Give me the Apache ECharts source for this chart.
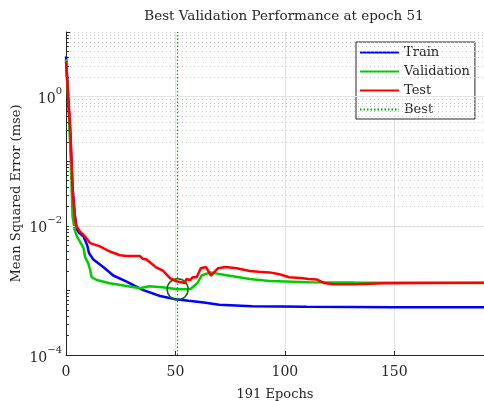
<!DOCTYPE html>
<html><head><meta charset="utf-8">
<script src="https://cdn.jsdelivr.net/npm/echarts@6/dist/echarts.min.js"></script>
<style>html,body{margin:0;padding:0;background:#fff}#c{width:484px;height:401px}</style>
</head><body><div id="c"></div>
<script>
// ---- data ----
const trainEpochs = [0,1,2,3,4,5,6,8,9.7,10.5,12.5,17,21.6,27.7,35,43,50,56,63,70,85,110,150,191];
const trainMse = [4.2,1.0,0.25,0.04,0.015,0.0088,0.0078,0.0068,0.005,0.0038,0.003,0.0023,0.0017,0.00137,0.00102,0.00082,0.00073,0.00069,0.00065,0.0006,0.00057,0.00056,0.00055,0.00055];

const valEpochs = [0,1,2,3,4,5,6.4,8,8.7,9.2,10.2,11,11.7,14,20,27.7,33.8,38,44,51,55,57,60,62,66,72,84,93,111,132,191];
const valMse = [3.8,0.9,0.15,0.014,0.0085,0.0068,0.0057,0.0045,0.0033,0.0035,0.0026,0.0021,0.0016,0.00145,0.00129,0.00117,0.00108,0.00116,0.00112,0.00104,0.00104,0.00106,0.00129,0.0017,0.0019,0.00175,0.0015,0.0014,0.00134,0.00132,0.0013];

const testEpochs = [0,1,2,3,4,4.6,6.4,7.5,8.7,11,15.5,20,24.7,27.7,33.8,35,35.6,36.8,41,44.4,47.5,50.5,52,54.3,55,56.6,58,59.7,61.6,64,66.2,69.4,73,78,84,88,93,97,102,107,111,114.5,118,122,132,146,191];
const testMse = [3.5,1.0,0.3,0.036,0.014,0.01,0.0081,0.0075,0.0068,0.0054,0.0048,0.004,0.0035,0.0034,0.0034,0.0031,0.0033,0.003,0.0023,0.002,0.00155,0.00138,0.00135,0.0013,0.0015,0.00145,0.0016,0.0016,0.0022,0.0023,0.0017,0.0022,0.0023,0.0022,0.002,0.00195,0.0019,0.0018,0.0016,0.00155,0.0015,0.00148,0.0013,0.00125,0.00124,0.00129,0.00131];

const bestEpoch = 51;
const bestMse = 0.00104;
const totalEpochs = 191;
const xTickLabels = [0,50,100,150];
const yLabelExponents = [-4,-2,0];

// ---- helpers ----
const FONT = 'DejaVu Serif';
const TXT = '#262626';
const zip = (xs, ys) => xs.map((x,i)=>[x, ys[i]]);

const majorY = yLabelExponents.map(e => Math.pow(10,e));
const minorY = [];
for (let e = -4; e <= 1; e++) {
  for (let d = 1; d <= 9; d++) {
    const v = d * Math.pow(10, e);
    if (v > 10.0001) continue;
    if (d === 1 && yLabelExponents.includes(e)) continue;
    minorY.push(v);
  }
}
const tickY = [];
for (let e = -4; e <= 1; e++) for (let d = 1; d <= 9; d++) { const v = d*Math.pow(10,e); if (v <= 10.0001) tickY.push(v); }

const chart = echarts.init(document.getElementById('c'), null, {renderer:'canvas'});
chart.setOption({
  animation: false,
  backgroundColor: '#fff',
  title: {
    text: 'Best Validation Performance at epoch 51',
    left: 279, top: 4, textAlign: 'center',
    textStyle: {fontFamily: FONT, fontSize: 13.5, fontWeight: 'normal', color: TXT}
  },
  grid: {left: 66, right: 0, top: 32, bottom: 46, containLabel: false, outerBoundsMode: 'none'},
  legend: {
    orient: 'vertical', left: 356, top: 42,
    itemWidth: 39, itemHeight: 14, itemGap: 6,
    padding: [4, 5, 3, 3],
    borderColor: TXT, borderWidth: 1, backgroundColor: '#fff',
    itemStyle: {opacity: 0},
    textStyle: {fontFamily: FONT, fontSize: 13, color: TXT},
    data: ['Train','Validation','Test','Best']
  },
  xAxis: {
    type: 'value', min: 0, max: totalEpochs, interval: 50,
    name: totalEpochs + ' Epochs', nameLocation: 'middle', nameGap: 33, nameMoveOverlap: false,
    nameTextStyle: {fontFamily: FONT, fontSize: 13, color: TXT},
    axisLine: {show: true, onZero: false, lineStyle: {color: TXT, width: 1}},
    axisTick: {show: true, inside: true, length: 4, lineStyle: {color: TXT}},
    axisLabel: {margin: 10, fontFamily: FONT, fontSize: 14, color: TXT, showMaxLabel: false,
      formatter: v => xTickLabels.includes(v) ? String(v) : ''},
    splitLine: {show: true, lineStyle: {color: '#e3e3e3', width: 1}}
  },
  yAxis: {
    type: 'log', logBase: 10, min: 1e-4, max: 10,
    name: 'Mean Squared Error (mse)', nameLocation: 'middle', nameGap: 43, nameMoveOverlap: false,
    nameTextStyle: {fontFamily: FONT, fontSize: 13, color: TXT},
    axisLine: {show: true, lineStyle: {color: TXT, width: 1}},
    axisTick: {show: true, inside: true, length: 4, lineStyle: {color: TXT}},
    splitLine: {show: false},
    axisLabel: {
      margin: 4, color: TXT,
      formatter: v => {
        const e = Math.round(Math.log10(v));
        if (Math.abs(v / Math.pow(10, e) - 1) > 1e-6) return '';
        if (!yLabelExponents.includes(e)) return '';
        return '{b|10}{s|' + (e < 0 ? '\u2212' + (-e) : e) + '}';
      },
      rich: {
        b: {fontFamily: FONT, fontSize: 14, color: TXT, lineHeight: 20, verticalAlign: 'bottom'},
        s: {fontFamily: FONT, fontSize: 10, color: TXT, verticalAlign: 'top'}
      }
    }
  },
  series: [
    {
      name: 'grid', type: 'line', data: [], silent: true, z: 1,
      markLine: {
        silent: true, symbol: 'none', label: {show: false}, animation: false,
        data: [
          ...majorY.map(v => ({yAxis: v, lineStyle: {color: '#e3e3e3', width: 1, type: 'solid'}})),
          ...minorY.map(v => ({yAxis: v, lineStyle: {color: '#c6c6c6', width: 1, type: [1, 3]}})),
          ...tickY.map(v => [{coord: [0, v], lineStyle: {color: TXT, width: 1, type: 'solid'}}, {coord: [1.3, v]}])
        ]
      }
    },
    {name: 'Train', type: 'line', data: zip(trainEpochs, trainMse), showSymbol: false, symbol: 'none',
      lineStyle: {color: '#0000ff', width: 2.5}, itemStyle: {color: '#0000ff'}, z: 3},
    {name: 'Validation', type: 'line', data: zip(valEpochs, valMse), showSymbol: false, symbol: 'none',
      lineStyle: {color: '#00cc00', width: 2.5}, itemStyle: {color: '#00cc00'}, z: 4},
    {name: 'Test', type: 'line', data: zip(testEpochs, testMse), showSymbol: false, symbol: 'none',
      lineStyle: {color: '#ff0000', width: 2.5}, itemStyle: {color: '#ff0000'}, z: 5},
    {
      name: 'Best', type: 'line', data: [], symbol: 'none', z: 6,
      lineStyle: {color: '#00aa00', width: 1, type: [1.5, 2]}, itemStyle: {color: '#00aa00'},
      markLine: {
        silent: true, symbol: 'none', label: {show: false}, animation: false,
        lineStyle: {color: '#00aa00', width: 1.2, type: [1.5, 2]},
        data: [{xAxis: bestEpoch}, {yAxis: bestMse}]
      },
      markPoint: {
        silent: true, animation: false, label: {show: false},
        data: [{coord: [bestEpoch, bestMse], symbol: 'circle', symbolSize: 21,
          itemStyle: {color: 'rgba(0,0,0,0)', borderColor: '#0a6e0a', borderWidth: 1.5}}]
      }
    }
  ]
});
</script></body></html>
